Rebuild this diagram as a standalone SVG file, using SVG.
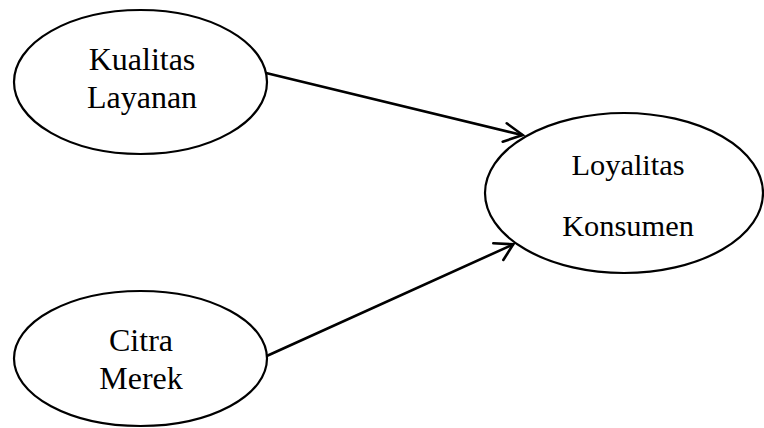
<svg xmlns="http://www.w3.org/2000/svg" width="764" height="428" viewBox="0 0 764 428">
<style>
.node ellipse{fill:#fff;stroke:#000;stroke-width:2.2}
.node text{font-family:"Liberation Serif","Times New Roman",serif;font-size:32px;fill:#000;text-anchor:middle}
.edge line,.edge polyline{stroke:#000;stroke-width:2.6;fill:none;stroke-linecap:round;stroke-linejoin:miter}
</style>
<rect width="764" height="428" fill="#fff"/>
<g id="connectors" class="edge">
<line x1="265" y1="72.7" x2="522" y2="135"/>
<polyline points="506.7,123.3 522.7,135 502.7,141.7"/>
<line x1="266.7" y1="356" x2="513" y2="244.5"/>
<polyline points="493.3,243.3 513.3,244.3 503.3,260"/>
</g>
<g id="kualitas-layanan" class="node">
<ellipse cx="140.5" cy="82" rx="126.5" ry="72"/>
<text x="142" y="70">Kualitas</text>
<text x="142" y="108">Layanan</text>
</g>
<g id="citra-merek" class="node">
<ellipse cx="140.5" cy="358.5" rx="126.5" ry="67.5"/>
<text x="141" y="351">Citra</text>
<text x="141" y="389">Merek</text>
</g>
<g id="loyalitas-konsumen" class="node">
<ellipse cx="624" cy="193" rx="139" ry="80"/>
<text x="628" y="175" style="font-size:30.4px">Loyalitas</text>
<text x="628" y="236" style="font-size:30.4px">Konsumen</text>
</g>
</svg>
